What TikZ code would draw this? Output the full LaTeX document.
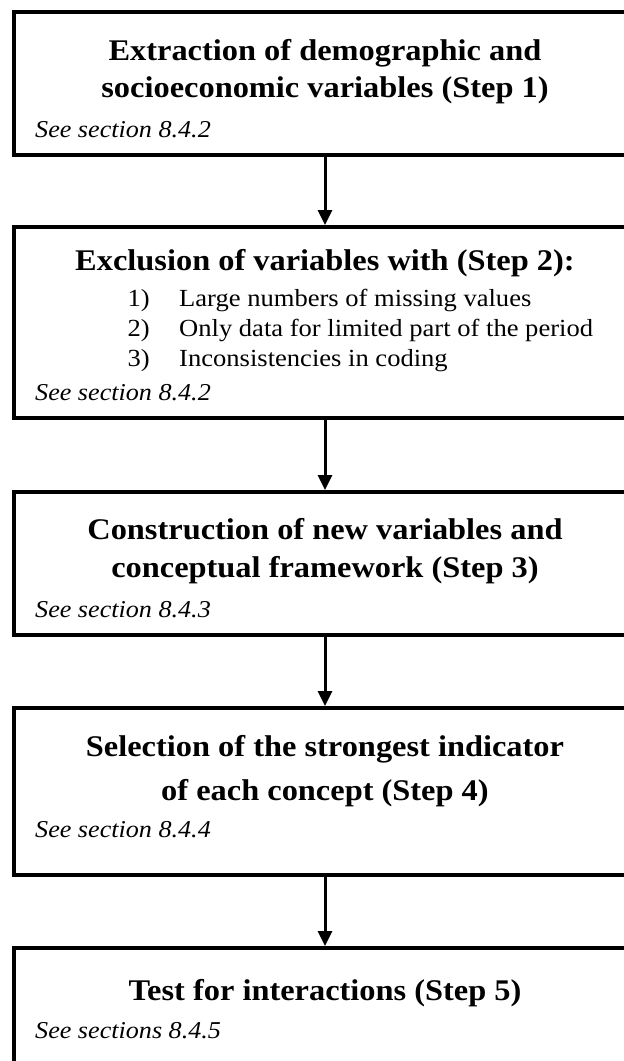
\documentclass[tikz,border=0pt]{standalone}
\usepackage{fontspec}
\setmainfont{Liberation Serif}[FakeStretch=1.08]
\usetikzlibrary{arrows.meta}

\tikzset{
  stepbox/.style={draw, line width=4pt, inner sep=0pt, outer sep=0pt, anchor=north west},
  flow/.style={line width=3pt, -{Triangle[length=15pt,width=14pt]}, shorten >=2pt},
  headline/.style={font=\fontsize{30}{36}\selectfont\bfseries, inner sep=0pt, anchor=base},
  seeref/.style={font=\fontsize{24.2}{29}\selectfont\itshape, inner sep=0pt, anchor=base west},
  itemnum/.style={font=\fontsize{24.6}{29}\selectfont, inner sep=0pt, anchor=base east},
  itemtext/.style={font=\fontsize{24.6}{29}\selectfont, inner sep=0pt, anchor=base west},
}

\begin{document}
\begin{tikzpicture}[x=1pt,y=-1pt]
  \useasboundingbox (0,0) rectangle (624,1061);
  \fill[white] (0,0) rectangle (624,1061);
  \clip (0,0) rectangle (624,1061);

  % step boxes
  \node[stepbox, minimum width=622pt, minimum height=143pt] (b1) at (14,12) {};
  \node[stepbox, minimum width=622pt, minimum height=191pt] (b2) at (14,227) {};
  \node[stepbox, minimum width=622pt, minimum height=143pt] (b3) at (14,492) {};
  \node[stepbox, minimum width=622pt, minimum height=167pt] (b4) at (14,708) {};
  \node[stepbox, minimum width=622pt, minimum height=160pt] (b5) at (14,948) {};

  % step 1
  \node[headline] (t1a) at (325,60) {Extraction of demographic and};
  \node[headline] (t1b) at (325,97) {socioeconomic variables (Step 1)};
  \node[seeref] (r1) at (35,137) {See section 8.4.2};

  % step 2
  \node[headline] (t2a) at (325,270) {Exclusion of variables with (Step 2):};
  \node[itemnum] (n21) at (150,306) {1)};
  \node[itemtext] (i21) at (179,306) {Large numbers of missing values};
  \node[itemnum] (n22) at (150,336) {2)};
  \node[itemtext] (i22) at (179,336) {Only data for limited part of the period};
  \node[itemnum] (n23) at (150,366) {3)};
  \node[itemtext] (i23) at (179,366) {Inconsistencies in coding};
  \node[seeref] (r2) at (35,400) {See section 8.4.2};

  % step 3
  \node[headline] (t3a) at (325,539) {Construction of new variables and};
  \node[headline] (t3b) at (325,577) {conceptual framework (Step 3)};
  \node[seeref] (r3) at (35,617) {See section 8.4.3};

  % step 4
  \node[headline] (t4a) at (325,756) {Selection of the strongest indicator};
  \node[headline] (t4b) at (325,800) {of each concept (Step 4)};
  \node[seeref] (r4) at (35,837) {See section 8.4.4};

  % step 5
  \node[headline] (t5a) at (325,1000) {Test for interactions (Step 5)};
  \node[seeref] (r5) at (35,1038) {See sections 8.4.5};

  % connectors
  \draw[flow] (b1.south) -- (b2.north);
  \draw[flow] (b2.south) -- (b3.north);
  \draw[flow] (b3.south) -- (b4.north);
  \draw[flow] (b4.south) -- (b5.north);
\end{tikzpicture}
\end{document}
